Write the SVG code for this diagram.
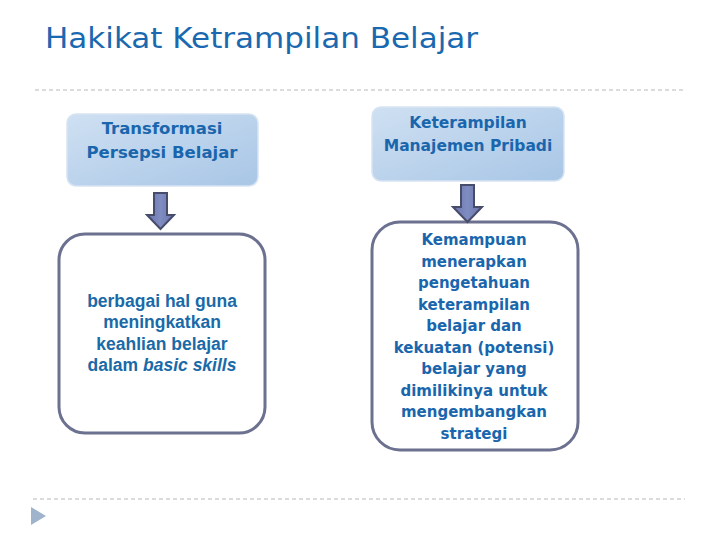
<svg xmlns="http://www.w3.org/2000/svg" width="720" height="540" viewBox="0 0 720 540">
<defs>
<linearGradient id="topFill" x1="0" y1="0" x2="1" y2="1">
<stop offset="0" stop-color="#cfe0f2"/>
<stop offset="1" stop-color="#a8c6e6"/>
</linearGradient>
<linearGradient id="arrowFill" x1="0" y1="0" x2="1" y2="0">
<stop offset="0" stop-color="#6a76aa"/>
<stop offset="0.5" stop-color="#7f8cc2"/>
<stop offset="1" stop-color="#6a76aa"/>
</linearGradient>
</defs>
<style>
.title{font-family:"Comic Sans MS","DejaVu Sans",sans-serif;font-size:29px;fill:#1a69b0}
.rule{stroke:#b4b8bc;stroke-width:1;stroke-dasharray:4 3;fill:none}
.topbox{fill:url(#topFill);stroke:#d7e4f2;stroke-width:1.5}
.botbox{fill:#ffffff;stroke:#6c7190;stroke-width:3}
.ct{font-family:"Comic Sans MS","DejaVu Sans",sans-serif;font-weight:bold;fill:#1a66ad;text-anchor:middle}
.at{font-family:"Liberation Sans",Arial,sans-serif;font-weight:bold;font-size:17.5px;fill:#1a6aa8;text-anchor:middle}
.arrow{fill:url(#arrowFill);stroke:#474c6a;stroke-width:2;stroke-linejoin:miter}
</style>
<rect width="720" height="540" fill="#ffffff"/>
<text class="title" x="45" y="48" textLength="433" lengthAdjust="spacingAndGlyphs">Hakikat Ketrampilan Belajar</text>
<line class="rule" x1="35" y1="90" x2="685" y2="90"/>
<line class="rule" x1="33" y1="499" x2="685" y2="499"/>
<polygon points="31,507 46,516 31,525" fill="#9fb4cc"/>

<g id="node-transformasi">
<rect class="topbox" x="67" y="114" width="191" height="72" rx="9"/>
<text class="ct" font-size="16.5" x="162" y="134">Transformasi</text>
<text class="ct" font-size="16.5" x="162" y="158">Persepsi Belajar</text>
</g>
<g id="node-keterampilan">
<rect class="topbox" x="372" y="107" width="192" height="74" rx="9"/>
<text class="ct" font-size="15.5" x="468" y="128">Keterampilan</text>
<text class="ct" font-size="15.5" x="468" y="151">Manajemen Pribadi</text>
</g>
<g id="node-berbagai">
<rect class="botbox" x="59" y="234" width="206" height="199" rx="26"/>
<text class="at" x="162" y="307">berbagai hal guna</text>
<text class="at" x="162" y="328">meningkatkan</text>
<text class="at" x="162" y="350">keahlian belajar</text>
<text class="at" x="162" y="371">dalam <tspan font-style="italic">basic skills</tspan></text>
</g>
<g id="node-kemampuan">
<rect class="botbox" x="372" y="222" width="206" height="228" rx="28"/>
<g class="ct" font-size="15">
<text x="474" y="245">Kemampuan</text>
<text x="474" y="267">menerapkan</text>
<text x="474" y="288">pengetahuan</text>
<text x="474" y="310">keterampilan</text>
<text x="474" y="331">belajar dan</text>
<text x="474" y="353">kekuatan (potensi)</text>
<text x="474" y="374">belajar yang</text>
<text x="474" y="396">dimilikinya untuk</text>
<text x="474" y="417">mengembangkan</text>
<text x="474" y="439">strategi</text>
</g>
</g>
<g id="connectors">
<polygon class="arrow" points="154,193 167,193 167,215 174,215 160.5,229 147,215 154,215"/>
<polygon class="arrow" points="461,185 474,185 474,207 482,207 467.5,222 453,207 461,207"/>
</g>
</svg>
